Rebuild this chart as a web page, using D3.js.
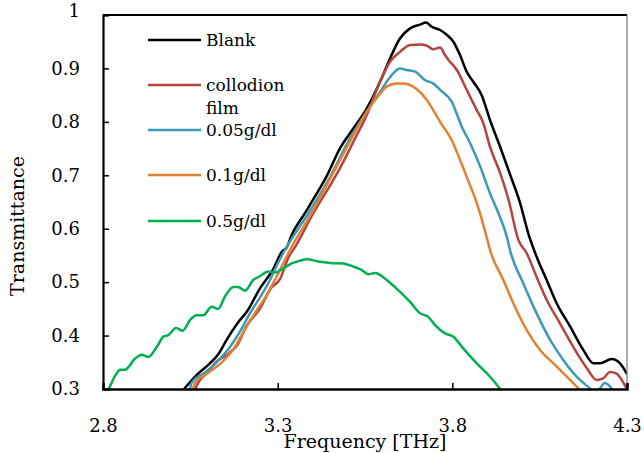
<!DOCTYPE html>
<html>
<head>
<meta charset="utf-8">
<script src="https://cdn.jsdelivr.net/npm/d3@7"></script>
<style>
  body { margin: 0; background: #fff; }
  text { font-family: "DejaVu Serif", serif; fill: #000; }
</style>
</head>
<body>
<svg id="chart"></svg>
<script>
// frequency [THz], transmittance
let blank = [[3.032,0.300],[3.068,0.326],[3.106,0.348],[3.130,0.365],[3.154,0.392],[3.192,0.429],[3.211,0.444],[3.249,0.488],[3.287,0.524],[3.312,0.557],[3.326,0.565],[3.340,0.588],[3.378,0.629],[3.412,0.666],[3.440,0.698],[3.478,0.750],[3.517,0.788],[3.555,0.825],[3.593,0.875],[3.622,0.919],[3.650,0.956],[3.679,0.975],[3.707,0.982],[3.725,0.986],[3.741,0.978],[3.765,0.972],[3.784,0.963],[3.803,0.950],[3.822,0.925],[3.841,0.894],[3.860,0.875],[3.884,0.850],[3.908,0.803],[3.937,0.753],[3.965,0.702],[3.994,0.648],[4.018,0.590],[4.041,0.548],[4.070,0.504],[4.099,0.460],[4.137,0.417],[4.175,0.373],[4.204,0.348],[4.223,0.348],[4.256,0.356],[4.280,0.348],[4.300,0.328]]
let collodion = [[3.063,0.300],[3.078,0.317],[3.097,0.329],[3.126,0.352],[3.150,0.362],[3.187,0.385],[3.211,0.418],[3.249,0.450],[3.280,0.488],[3.307,0.506],[3.330,0.545],[3.350,0.566],[3.402,0.629],[3.459,0.691],[3.478,0.713],[3.517,0.763],[3.555,0.813],[3.593,0.875],[3.622,0.913],[3.650,0.931],[3.679,0.944],[3.707,0.945],[3.726,0.943],[3.745,0.936],[3.765,0.939],[3.779,0.925],[3.789,0.916],[3.813,0.897],[3.841,0.860],[3.870,0.822],[3.889,0.797],[3.908,0.753],[3.937,0.704],[3.961,0.654],[3.989,0.579],[4.013,0.554],[4.041,0.510],[4.070,0.467],[4.108,0.423],[4.146,0.379],[4.185,0.339],[4.213,0.317],[4.232,0.320],[4.251,0.332],[4.270,0.329],[4.294,0.307],[4.300,0.300]]
let c005 = [[3.049,0.300],[3.054,0.312],[3.090,0.330],[3.125,0.350],[3.164,0.379],[3.190,0.405],[3.221,0.442],[3.250,0.472],[3.278,0.504],[3.300,0.535],[3.326,0.566],[3.388,0.629],[3.445,0.691],[3.507,0.769],[3.555,0.819],[3.593,0.856],[3.622,0.884],[3.650,0.900],[3.669,0.897],[3.693,0.894],[3.722,0.878],[3.745,0.872],[3.765,0.860],[3.798,0.838],[3.827,0.791],[3.851,0.760],[3.880,0.716],[3.908,0.666],[3.932,0.629],[3.956,0.585],[3.965,0.560],[4.003,0.498],[4.041,0.442],[4.080,0.392],[4.118,0.354],[4.156,0.323],[4.194,0.301],[4.210,0.292],[4.237,0.311],[4.265,0.292]]
let c01 = [[3.058,0.300],[3.063,0.311],[3.100,0.330],[3.140,0.350],[3.178,0.379],[3.205,0.410],[3.235,0.442],[3.265,0.472],[3.292,0.504],[3.340,0.566],[3.397,0.629],[3.448,0.691],[3.517,0.775],[3.555,0.819],[3.583,0.844],[3.612,0.866],[3.641,0.872],[3.660,0.872],[3.688,0.866],[3.727,0.841],[3.765,0.800],[3.798,0.766],[3.822,0.729],[3.841,0.697],[3.870,0.648],[3.898,0.585],[3.908,0.560],[3.946,0.504],[3.975,0.460],[4.013,0.410],[4.051,0.373],[4.099,0.342],[4.137,0.317],[4.161,0.301],[4.180,0.285]]
let c05 = [[2.817,0.300],[2.835,0.325],[2.849,0.336],[2.863,0.336],[2.892,0.357],[2.911,0.364],[2.930,0.360],[2.954,0.379],[2.973,0.398],[2.987,0.401],[3.009,0.414],[3.028,0.409],[3.049,0.429],[3.068,0.438],[3.087,0.438],[3.111,0.454],[3.130,0.450],[3.149,0.473],[3.173,0.491],[3.187,0.491],[3.206,0.484],[3.230,0.504],[3.249,0.511],[3.273,0.520],[3.292,0.518],[3.312,0.524],[3.340,0.535],[3.364,0.540],[3.383,0.543],[3.421,0.538],[3.450,0.536],[3.488,0.535],[3.517,0.529],[3.540,0.523],[3.559,0.515],[3.579,0.517],[3.612,0.504],[3.645,0.485],[3.679,0.463],[3.707,0.442],[3.731,0.435],[3.750,0.420],[3.779,0.404],[3.803,0.398],[3.831,0.376],[3.870,0.348],[3.908,0.323],[3.937,0.300]]

let seriesNames = ["Blank", "collodion\nfilm", "0.05g/dl", "0.1g/dl", "0.5g/dl"]
let seriesData = [blank, collodion, c005, c01, c05]
let seriesColors = ["#000000", "#b5443f", "#3a9ab8", "#e2812f", "#00b050"]

let xTicks = [2.8, 3.3, 3.8, 4.3]
let yTicks = [0.3, 0.4, 0.5, 0.6, 0.7, 0.8, 0.9, 1]

const width = 644, height = 453
const margin = {left: 103, right: 17, top: 15, bottom: 64}

let svg = d3.select('#chart')
    .attr("width", width)
    .attr("height", height)

let x = d3.scaleLinear().domain([2.8, 4.3]).range([margin.left, width - margin.right])
let y = d3.scaleLinear().domain([0.3, 1]).range([height - margin.bottom, margin.top])

svg.append("clipPath").attr("id", "plotclip")
    .append("rect")
    .attr("x", margin.left).attr("y", margin.top)
    .attr("width", x(4.3) - margin.left).attr("height", y(0.3) - margin.top)

// lines
let line = d3.line()
    .x(d => x(d[0]))
    .y(d => y(d[1]))
    .curve(d3.curveMonotoneX)

svg.append("g")
    .attr("clip-path", "url(#plotclip)")
    .selectAll("path")
    .data(seriesData)
    .enter()
    .append("path")
    .attr("fill", "none")
    .attr("stroke", (d, i) => seriesColors[i])
    .attr("stroke-width", 2.5)
    .attr("stroke-linejoin", "round")
    .attr("d", line)

// frame
svg.append("line").attr("x1", x(4.3)).attr("x2", x(4.3)).attr("y1", y(1)).attr("y2", y(0.3))
    .attr("stroke", "#777").attr("stroke-width", 1.2)
svg.append("line").attr("x1", x(2.8)).attr("x2", x(4.3)).attr("y1", y(1)).attr("y2", y(1))
    .attr("stroke", "#000").attr("stroke-width", 2)

// y axis, ticks pointing inward
let yAxis = svg.append("g")
    .attr("transform", `translate(${margin.left},0)`)
    .call(d3.axisLeft(y).tickValues(yTicks).tickSize(-6).tickPadding(23)
        .tickFormat(d => d === 1 ? "1" : d3.format(".1f")(d)))
yAxis.select(".domain").attr("stroke-width", 2.2)
yAxis.selectAll(".tick line").attr("stroke-width", 1.5)
yAxis.selectAll("text").attr("font-family", "DejaVu Serif").attr("font-size", 18)
yAxis.selectAll(".tick").filter(d => d === 1).select("text").attr("dy", "0.1em")

// x axis
let xAxis = svg.append("g")
    .attr("transform", `translate(0,${y(0.3)})`)
    .call(d3.axisBottom(x).tickValues(xTicks).tickSize(-6).tickPadding(30)
        .tickFormat(d3.format(".1f")))
xAxis.select(".domain").attr("stroke-width", 2.5)
xAxis.selectAll(".tick line").attr("stroke-width", 1.5)
xAxis.selectAll("text").attr("font-family", "DejaVu Serif").attr("font-size", 18)

// axis titles
svg.append("text")
    .attr("x", 365).attr("y", 448)
    .attr("text-anchor", "middle")
    .attr("font-size", 19)
    .text("Frequency [THz]")

svg.append("text")
    .attr("transform", "translate(24,226) rotate(-90)")
    .attr("text-anchor", "middle")
    .attr("font-size", 19)
    .text("Transmittance")

// legend
let legendY = [40, 85, 130, 175, 221]
let legend = svg.append("g")
seriesNames.forEach((name, i) => {
    legend.append("line")
        .attr("x1", 148).attr("x2", 201)
        .attr("y1", legendY[i]).attr("y2", legendY[i])
        .attr("stroke", seriesColors[i]).attr("stroke-width", 2.5)
    let t = legend.append("text")
        .attr("x", 206).attr("y", legendY[i] + 6)
        .attr("font-size", 17)
    name.split("\n").forEach((part, j) => {
        t.append("tspan").attr("x", 206).attr("dy", j === 0 ? 0 : 23).text(part)
    })
})
</script>
</body>
</html>
